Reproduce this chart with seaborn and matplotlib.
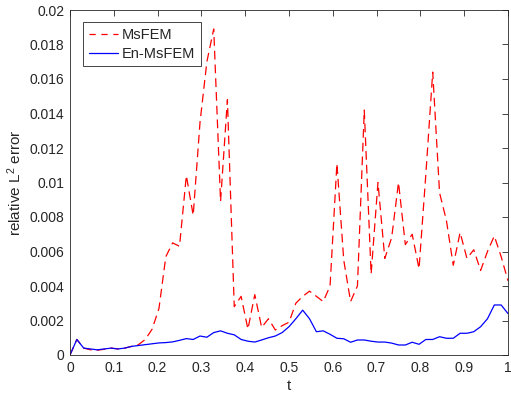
import numpy as np
import pandas as pd
import seaborn as sns
import matplotlib.pyplot as plt

# time samples, t = k/64
n_steps = 64
t = np.arange(n_steps + 1) / n_steps

msfem = [0.0, 0.0009, 0.0004, 0.0003, 0.00028, 0.00033, 0.0004, 0.00035, 0.0004, 0.0005,
         0.0006, 0.0009, 0.0015, 0.0027, 0.0057, 0.0065, 0.0063, 0.0104, 0.0081, 0.0135,
         0.0170, 0.0189, 0.0089, 0.0148, 0.0028, 0.0034, 0.0015, 0.0035, 0.0016, 0.0021,
         0.00145, 0.0017, 0.0019, 0.0030, 0.0034, 0.0037, 0.0034, 0.0031, 0.0040, 0.0111,
         0.0055, 0.0031, 0.0040, 0.0142, 0.0047, 0.0100, 0.0056, 0.0068, 0.0100, 0.0064,
         0.0070, 0.0050, 0.0105, 0.0164, 0.0094, 0.0078, 0.0052, 0.0071, 0.0056, 0.0061,
         0.0049, 0.0060, 0.0069, 0.0057, 0.0043]

en_msfem = [0.0, 0.0009, 0.0004, 0.00035, 0.0003, 0.00035, 0.0004, 0.00035, 0.0004, 0.0005,
            0.00055, 0.0006, 0.00065, 0.0007, 0.00072, 0.00076, 0.00085, 0.00095, 0.0009, 0.0011,
            0.00103, 0.0013, 0.0014, 0.00126, 0.00117, 0.0009, 0.0008, 0.00075, 0.00087, 0.001,
            0.0011, 0.0013, 0.00164, 0.0021, 0.0026, 0.0021, 0.00135, 0.0014, 0.0012, 0.00097,
            0.00094, 0.00074, 0.00087, 0.00087, 0.0008, 0.00075, 0.00075, 0.00069, 0.00058, 0.00058,
            0.00074, 0.00062, 0.0009, 0.0009, 0.00106, 0.00097, 0.00097, 0.00126, 0.00126, 0.00135,
            0.00164, 0.0021, 0.0029, 0.0029, 0.0024]

x_ticks = np.round(np.arange(0, 1.01, 0.1), 1)
x_labels = ['0', '0.1', '0.2', '0.3', '0.4', '0.5', '0.6', '0.7', '0.8', '0.9', '1']
y_ticks = np.arange(0, 0.0201, 0.002)
y_labels = ['0', '0.002', '0.004', '0.006', '0.008', '0.01', '0.012', '0.014', '0.016', '0.018', '0.02']

df = pd.DataFrame({'t': t, 'MsFEM': msfem, 'En-MsFEM': en_msfem})

sns.set_theme(style='white')
plt.rcParams['font.family'] = ['Liberation Sans', 'DejaVu Sans']
plt.rcParams['mathtext.fontset'] = 'custom'
plt.rcParams['mathtext.rm'] = 'Liberation Sans'
plt.rcParams['mathtext.it'] = 'Liberation Sans'

fig = plt.figure(figsize=(5.11, 4.01), dpi=100)
ax = fig.add_axes([70 / 511, 1 - 355 / 401, 438 / 511, 345 / 401])

sns.lineplot(data=df, x='t', y='MsFEM', ax=ax, color='#ff0000', linewidth=0.9,
             linestyle=(0, (7, 4)), label='MsFEM')
sns.lineplot(data=df, x='t', y='En-MsFEM', ax=ax, color='#0000ff', linewidth=0.9,
             label='En-MsFEM')

ax.set_xlim(0, 1)
ax.set_ylim(0, 0.02)
ax.set_xticks(x_ticks)
ax.set_xticklabels(x_labels)
ax.set_yticks(y_ticks)
ax.set_yticklabels(y_labels)
ax.set_xlabel('t', fontsize=11, color='#262626', labelpad=3)
ax.set_ylabel('relative L$^{2}$ error', fontsize=11, color='#262626', labelpad=4)

ax.tick_params(direction='in', length=4, width=0.6, top=True, right=True,
               labelsize=10, colors='#262626', pad=4)
for side in ax.spines.values():
    side.set_visible(True)
    side.set_color('#262626')
    side.set_linewidth(0.6)

leg = ax.legend(loc='upper left', bbox_to_anchor=(0.0297, 0.964), frameon=True,
                fancybox=False, framealpha=1, edgecolor='#262626', fontsize=10.5,
                handlelength=2.05, borderpad=0.38, labelspacing=0.34, handletextpad=0.25,
                borderaxespad=0)
leg.get_frame().set_linewidth(0.6)
# wider dashes for the legend sample, as in the reference
leg.get_lines()[0].set_dashes((5, 4.5))

fig.savefig('out.png', dpi=100)
